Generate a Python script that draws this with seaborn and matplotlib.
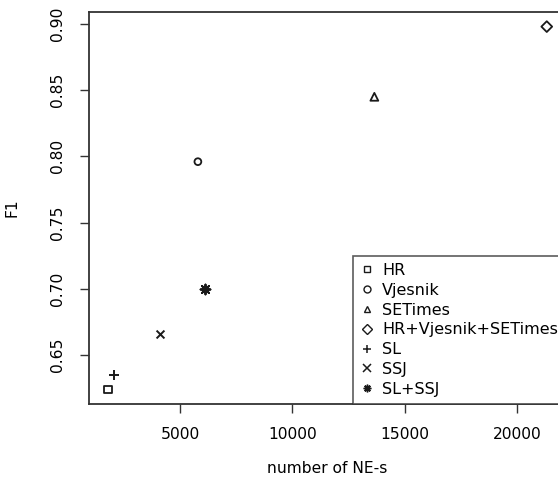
import matplotlib
matplotlib.use('Agg')
import matplotlib.pyplot as plt
import seaborn as sns
import pandas as pd
from matplotlib.lines import Line2D

# data
corpora = ['HR', 'Vjesnik', 'SETimes', 'HR+Vjesnik+SETimes', 'SL', 'SSJ', 'SL+SSJ']
num_ne = [1800, 5800, 13650, 21320, 2050, 4110, 6110]
f1 = [0.624, 0.796, 0.845, 0.898, 0.635, 0.666, 0.700]

df = pd.DataFrame({'corpus': corpora, 'ne': num_ne, 'f1': f1})

# R-like point symbols
marker_map = {'HR': 's', 'Vjesnik': 'o', 'SETimes': '^', 'HR+Vjesnik+SETimes': 'D',
              'SL': '+', 'SSJ': 'x', 'SL+SSJ': (8, 2, 0)}
open_markers = ['s', 'o', '^', 'D']
ink = '#1a1a1a'

sns.set_style('white')
plt.rcParams['font.family'] = ['DejaVu Sans']
plt.rcParams['text.color'] = 'black'
plt.rcParams['axes.labelcolor'] = 'black'
plt.rcParams['xtick.color'] = 'black'
plt.rcParams['ytick.color'] = 'black'

fig = plt.figure(figsize=(5.58, 4.78), dpi=100)
ax = fig.add_axes([0.1595, 0.1548, 0.853, 0.820])

handles = []
for _, row in df.iterrows():
    m = marker_map[row['corpus']]
    if m in open_markers:
        size = {'s': 26, 'o': 24, '^': 32, 'D': 30}[m]
        sns.scatterplot(x=[row['ne']], y=[row['f1']], marker=m, s=size, facecolors='none',
                        edgecolors=ink, linewidths=1.3, ax=ax)
        h = Line2D([], [], marker=m, ls='none', mfc='none', mec=ink, ms=5, mew=1.0)
    else:
        size = {'+': 50, 'x': 32, (8, 2, 0): 50}[m]
        sns.scatterplot(x=[row['ne']], y=[row['f1']], marker=m, s=size, color=ink,
                        linewidths=1.4, ax=ax)
        h = Line2D([], [], marker=m, ls='none', color=ink, ms=5.5, mew=1.1)
    handles.append(h)

ax.set_xlim(956, 22130)
ax.set_ylim(0.613, 0.909)
ax.set_xticks([5000, 10000, 15000, 20000])
ax.set_yticks([0.65, 0.70, 0.75, 0.80, 0.85, 0.90])
ax.set_yticklabels(['0.65', '0.70', '0.75', '0.80', '0.85', '0.90'], rotation=90, va='center')

for s in ax.spines.values():
    s.set_color('#333333')
    s.set_linewidth(1.3)

ax.tick_params(axis='both', which='both', direction='out', length=6.5, width=1.0,
               color='#333333', labelsize=11.2, bottom=True, left=True, top=False, right=False)
ax.tick_params(axis='y', pad=11)
ax.tick_params(axis='x', pad=10)

ax.set_xlabel('number of NE-s', fontsize=11.2)
ax.set_ylabel('F1', fontsize=11.2)
ax.xaxis.set_label_coords(0.5, -0.145)
ax.yaxis.set_label_coords(-0.145, 0.5)

leg = ax.legend(handles, corpora, loc='lower right', borderaxespad=0, fontsize=11.5,
                frameon=True, fancybox=False, edgecolor='#333333', handlelength=0.8,
                handletextpad=0.55, borderpad=0.45, labelspacing=0.3)
leg.get_frame().set_linewidth(1.2)

plt.savefig('out.png', dpi=100)
